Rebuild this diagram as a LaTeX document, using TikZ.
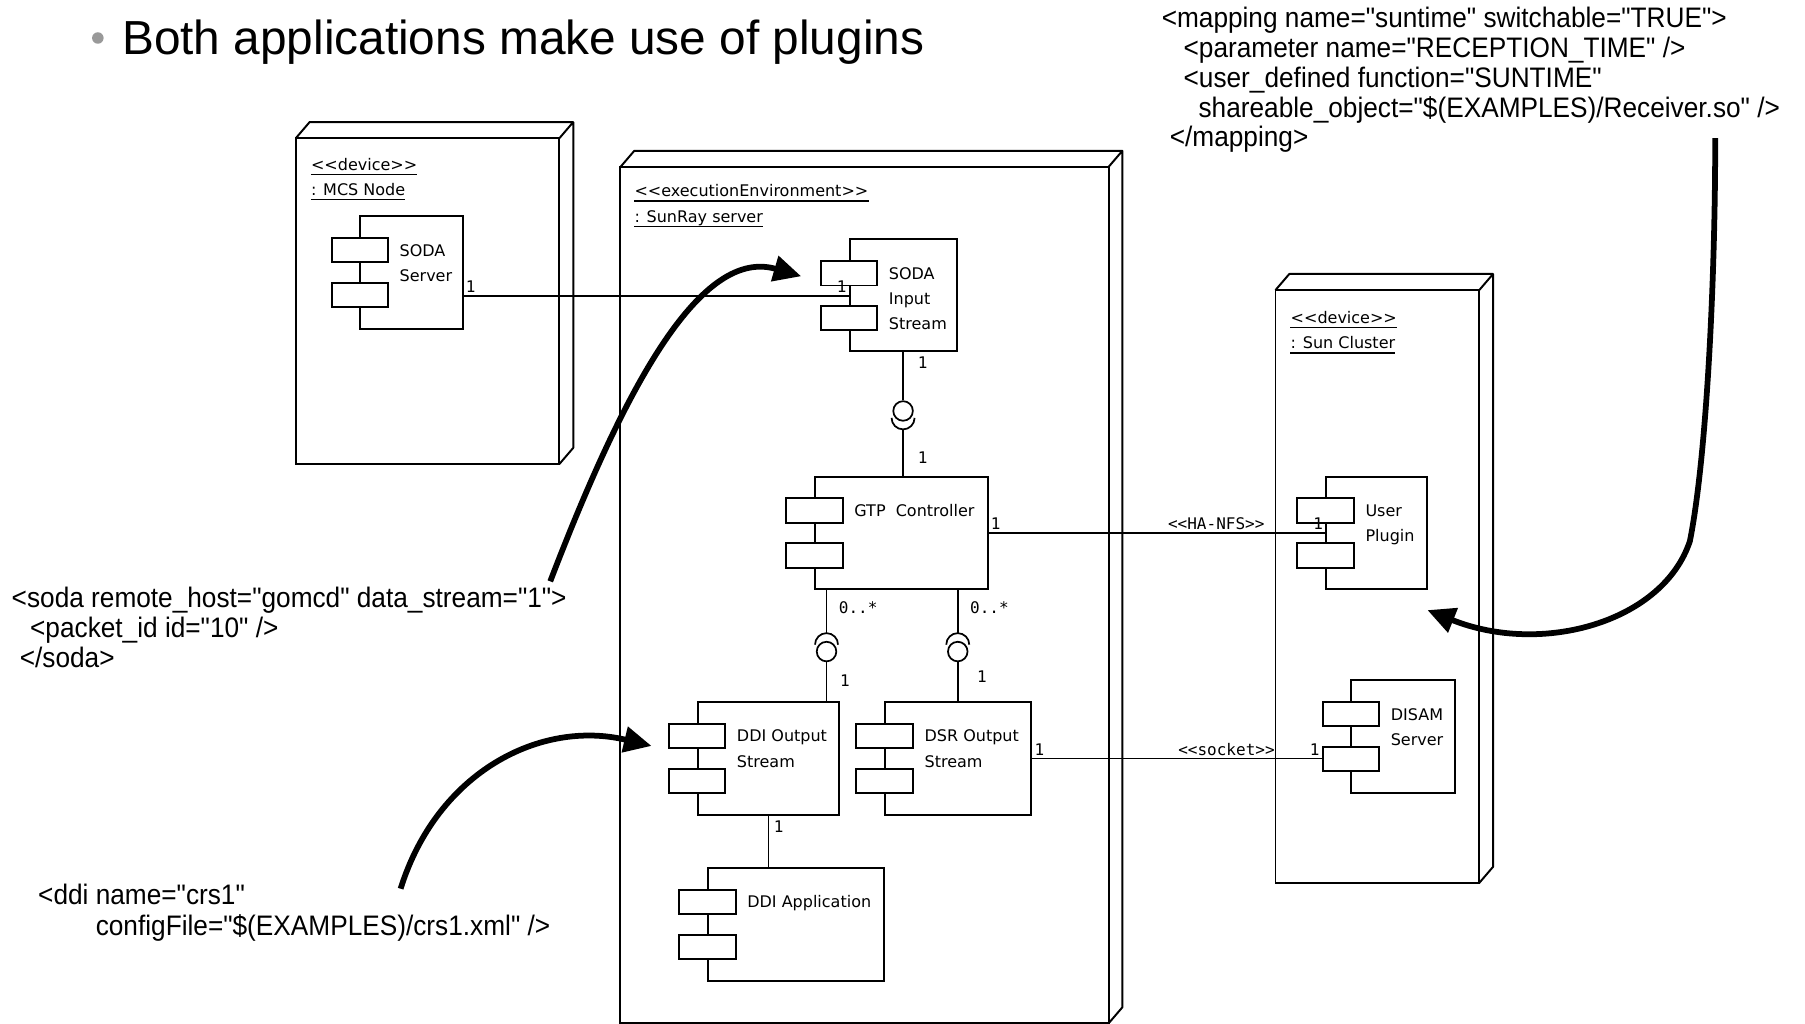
\documentclass[tikz,border=0pt]{standalone}
\usepackage{fontspec}
\setmainfont{Liberation Sans}
\newfontfamily\umlfont{DejaVu Sans}
\newfontfamily\multfont{DejaVu Sans Mono}
\newfontfamily\xmlfont[FakeStretch=0.93]{Liberation Sans}
\usetikzlibrary{calc,arrows.meta}

\tikzset{
	devbox/.style={draw, line width=1.7pt, inner sep=0, outer sep=0, anchor=north west},
	compbox/.style={devbox, fill=white},
	port/.style={compbox, minimum width=49, minimum height=21},
	umltxt/.style={font=\umlfont\fontsize{13.9}{22}\selectfont, inner sep=0, align=left},
	stereo/.style={umltxt, anchor=base west},
	mult/.style={font=\multfont\fontsize{13.9}{16}\selectfont, inner sep=2pt},
	link/.style={line width=1.5pt},
	ball/.style={circle, draw, line width=1.5pt, fill=white, minimum size=17, inner sep=0},
	xmltxt/.style={font=\xmlfont\fontsize{24.5}{26}\selectfont, anchor=base west, inner sep=0},
	fleche/.style={line width=5pt, -{Triangle[length=24pt,width=22pt]}},
}

\begin{document}
\begin{tikzpicture}[x=1pt,y=-1pt]
	\useasboundingbox (0,0) rectangle (1568,889);
	% titre
	\fill[gray!80] (85,33) circle (5);
	\node[anchor=base west, inner sep=0, font=\fontsize{41.5}{50}\selectfont] (titre) at (106,47) {Both applications make use of plugins};
	% noeuds 3D
	\foreach \nom/\x/\y/\larg/\haut in {mcs/257/120/229/283, sunray/539/145/424/744, cluster/1108/252/177/515}
	{
		\node[devbox, minimum width=\larg, minimum height=\haut] (\nom) at (\x,\y) {};
		\draw[line width=1.7pt, line join=round] (\nom.north west) -- ++(12,-14) -- ($(\nom.north east)+(12,-14)$) -- ($(\nom.south east)+(12,-14)$) -- (\nom.south east) (\nom.north east) -- ++(12,-14);
	}
	\foreach \x/\y/\texte [count=\i] in
	{270/148/{<{}<device>{}>},
	270/170/{: MCS Node},
	551/171/{<{}<executionEnvironment>{}>},
	551/193/{: SunRay server},
	1121/281/{<{}<device>{}>},
	1121/303/{: Sun Cluster}}
	{
		\node[stereo] (lbl\i) at (\x,\y) {\texte};
		\draw[line width=1.2pt] ($(lbl\i.base west)+(0,3.5)$) -- ($(lbl\i.base east)+(0,3.5)$);
	}
	% composants
	\foreach \nom/\x/\y/\larg/\haut/\texte in
	{sodasrv/313/188/89/98/{SODA\\Server},
	sodain/738/208/93/97/{SODA\\Input\\Stream},
	gtp/708/414/150/98/{GTP\ \ Controller},
	ddiout/606/610/123/98/{DDI Output\\Stream},
	dsrout/769/610/127/98/{DSR Output\\Stream},
	ddiapp/615/754/153/98/{DDI Application},
	plugin/1152/414/88/98/{User\\Plugin},
	disam/1174/591/90/98/{DISAM\\Server}}
	{
		\node[compbox, minimum width=\larg, minimum height=\haut] (\nom) at (\x,\y) {};
		\node[port] (\nom-p1) at ($(\nom.north west)+(-25,19)$) {};
		\node[port] (\nom-p2) at ($(\nom.north west)+(-25,58)$) {};
		\node[umltxt, anchor=north west] (\nom-txt) at ($(\nom.north west)+(34,24)$) {\texte};
	}
	% liens
	\coordinate (l1) at ($(sodasrv.north east)+(0,69)$);
	\draw[link] (l1) -- (l1 -| sodain.west) node[mult, pos=0, above right] {1} node[mult, pos=1, above left] {1};
	\coordinate (l2) at ($(gtp.north east)+(0,49)$);
	\draw[link] (l2) -- (l2 -| plugin.west) node[mult, pos=0, above right] {1} node[mult, pos=1, above left] {1}
		node[mult, pos=0.827, above left] {<<HA-NFS>>};
	\coordinate (l3) at ($(dsrout.north east)+(0,49)$);
	\draw[link] (l3) -- (l3 -| disam-p2.west) node[mult, pos=0, above right] {1} node[mult, pos=1, above left] {1}
		node[mult, pos=0.846, above left] {<<socket>>};
	\draw[link] (ddiout.south) -- (ddiout.south |- ddiapp.north) node[mult, pos=0.22, right=2pt] {1};
	% interfaces
	\node[ball] (ball1) at ($(sodain.south)+(0,52)$) {};
	\draw[link] (sodain.south) -- (ball1.north) node[mult, pos=0.23, right=10pt] {1};
	\draw[link] ($(ball1.center)+(-10,6)$) arc[start angle=180, end angle=0, radius=10];
	\draw[link] (ball1 |- gtp.north) -- ($(ball1.center)+(0,16)$) node[mult, pos=0.41, right=10pt] {1};
	\node[ball] (ball2) at ($(gtp.south west)+(10,54)$) {};
	\node[ball] (ball3) at ($(gtp.south east)+(-26,54)$) {};
	\foreach \b in {ball2, ball3}
	{
		\draw[link] (\b |- gtp.south) -- ($(\b.center)+(0,-16)$) node[mult, pos=0.42, right=8pt] {0..*};
		\draw[link] ($(\b.center)+(-10,-6)$) arc[start angle=180, end angle=360, radius=10];
	}
	\draw[link] (ball2.south) -- (ball2 |- ddiout.north) node[mult, pos=0.46, right=9pt] {1};
	\draw[link] (ball3.south) -- (ball3 |- dsrout.north) node[mult, pos=0.35, right=14pt] {1};
	% textes xml
	\foreach \x/\y/\texte [count=\i] in
	{1009/24/{<mapping name="suntime" switchable="TRUE">},
	1028/50/{<parameter name="RECEPTION\_TIME" />},
	1028/76/{<user\_defined function="SUNTIME"},
	1041/102/{shareable\_object="\$(EXAMPLES)/Receiver.so" />},
	1016/127/{</mapping>},
	10/528/{<soda remote\_host="gomcd" data\_stream="1">},
	26/554/{<packet\_id id="10" />},
	17/580/{</soda>},
	33/786/{<ddi name="crs1"},
	83/813/{configFile="\$(EXAMPLES)/crs1.xml" />}}
		\node[xmltxt] (xml\i) at (\x,\y) {\texte};
	% fleches
	\coordinate (d1) at (478,505);
	\coordinate (f1) at (696,240);
	\draw[fleche] (d1) .. controls (545,330) and (610,215) .. (f1);
	\coordinate (d2) at (348,772);
	\coordinate (f2) at (566,648);
	\draw[fleche] (d2) .. controls (380,670) and (470,625) .. (f2);
	\coordinate (d3) at (1490,120);
	\coordinate (f3) at (1240,530);
	\draw[fleche] (d3) .. controls (1490,250) and (1482,400) .. (1468,470) .. controls (1445,540) and (1340,570) .. (f3);
\end{tikzpicture}
\end{document}
